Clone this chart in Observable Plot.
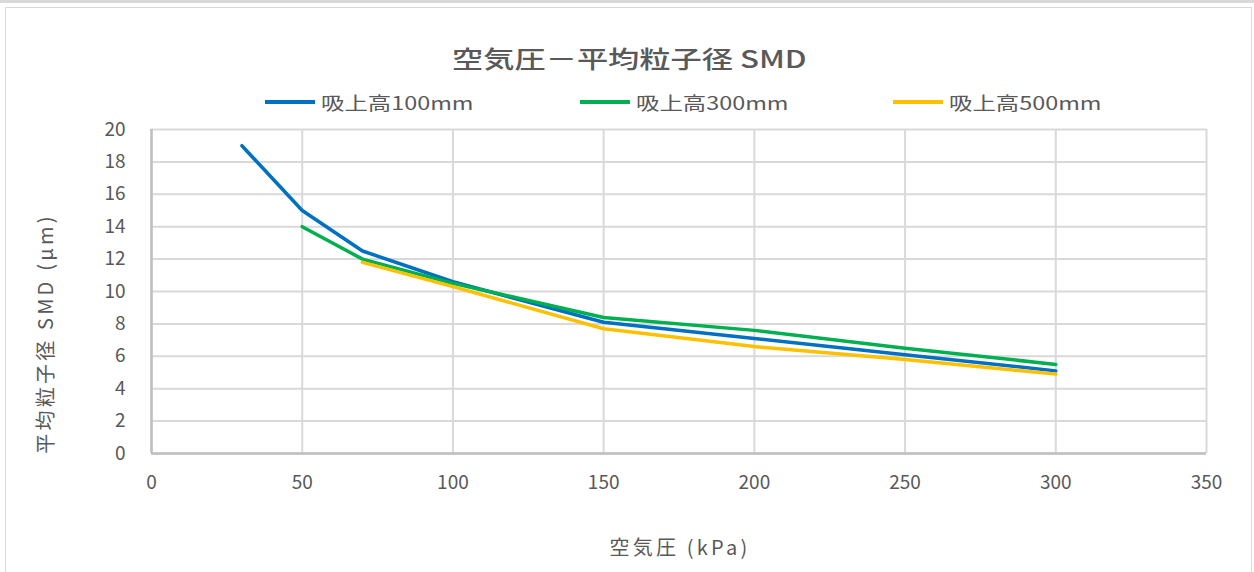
<!DOCTYPE html>
<html>
<head>
<meta charset="utf-8">
<script src="https://cdn.jsdelivr.net/npm/d3@7"></script>
<script src="https://cdn.jsdelivr.net/npm/@observablehq/plot@0.6"></script>
<style>
  html, body { margin: 0; padding: 0; background: #fff; overflow: hidden; }
  #page { position: relative; width: 1254px; height: 572px; overflow: hidden; font-family: "Noto Sans CJK JP", sans-serif; color: #595959; }
  #topband { position: absolute; left: 0; top: 0; width: 1254px; height: 3px; background: #d9d9d9; }
  #frame { position: absolute; left: 5px; top: 7px; width: 1247px; height: 600px; border: 1px solid #d9d9d9; box-sizing: border-box; pointer-events: none; }
  #header { position: relative; height: 115px; }
  #title { position: absolute; left: 0; width: 1258px; top: 40px; text-align: center; }
  #title span { display: inline-block; font-size: 24px; font-weight: 500; transform: scaleX(1.3); line-height: 36px; }
  #legend { position: absolute; top: 88px; left: 0; width: 1254px; height: 28px; }
  .item { position: absolute; top: 0; height: 28px; display: flex; align-items: center; }
  .swatch { width: 50px; height: 3.5px; margin-right: 6px; }
  .item span { display: inline-block; font-size: 18px; transform: scaleX(1.3); transform-origin: left center; line-height: 28px; }
</style>
</head>
<body>
<div id="page">
  <div id="topband"></div>
  <div id="header">
    <div id="title"><span></span></div>
    <div id="legend"></div>
  </div>
  <div id="chart"></div>
  <div id="frame"></div>
</div>
<script>
// ---- data ----
const chartTitle = "空気圧－平均粒子径 SMD";
const xTitle = "空気圧 (kPa)";
const yTitle = "平均粒子径 SMD (µm)";
const seriesNames = ["吸上高100mm", "吸上高300mm", "吸上高500mm"];
const seriesColors = ["#0070C0", "#00B050", "#FFC000"];

const pressure100 = [30, 50, 70, 100, 150, 200, 250, 300];
const smd100      = [19.0, 15.0, 12.5, 10.6, 8.1, 7.1, 6.1, 5.1];
const pressure300 = [50, 70, 100, 150, 200, 250, 300];
const smd300      = [14.0, 12.0, 10.5, 8.4, 7.6, 6.5, 5.5];
const pressure500 = [70, 100, 150, 200, 250, 300];
const smd500      = [11.8, 10.3, 7.7, 6.6, 5.8, 4.9];

const xTicks = [0, 50, 100, 150, 200, 250, 300, 350];
const yTicks = [0, 2, 4, 6, 8, 10, 12, 14, 16, 18, 20];

// ---- build table ----
const rows = [];
[[pressure100, smd100], [pressure300, smd300], [pressure500, smd500]].forEach(([xs, ys], i) => {
  xs.forEach((x, j) => rows.push({series: seriesNames[i], pressure: x, smd: ys[j]}));
});

// ---- header ----
document.querySelector("#title span").textContent = chartTitle;
const legendLefts = [265, 580, 893];
const legend = document.getElementById("legend");
seriesNames.forEach((name, i) => {
  const item = document.createElement("div");
  item.className = "item";
  item.style.left = legendLefts[i] + "px";
  const sw = document.createElement("div");
  sw.className = "swatch";
  sw.style.background = seriesColors[i];
  const label = document.createElement("span");
  label.textContent = name;
  item.appendChild(sw);
  item.appendChild(label);
  legend.appendChild(item);
});

// ---- plot ----
const plot = Plot.plot({
  width: 1254,
  height: 457,
  marginTop: 14,
  marginBottom: 119,
  marginLeft: 151,
  marginRight: 48,
  style: {fontFamily: "'Noto Sans CJK JP', sans-serif", fontSize: "19px", color: "#595959", background: "transparent"},
  x: {domain: [0, 350], ticks: xTicks},
  y: {domain: [0, 20], ticks: yTicks},
  color: {domain: seriesNames, range: seriesColors},
  marks: [
    Plot.gridX(xTicks, {stroke: "#d9d9d9", strokeOpacity: 1, strokeWidth: 2}),
    Plot.gridY(yTicks, {stroke: "#d9d9d9", strokeOpacity: 1, strokeWidth: 2}),
    Plot.ruleX([0], {stroke: "#bfbfbf", strokeWidth: 2.5}),
    Plot.ruleY([0], {stroke: "#bfbfbf", strokeWidth: 2.5}),
    Plot.axisX(xTicks, {tickSize: 0, tickPadding: 22, label: null, fontSize: 19}),
    Plot.axisY(yTicks, {tickSize: 0, tickPadding: 26, label: null, fontSize: 19}),
    Plot.line(rows, {x: "pressure", y: "smd", z: "series", stroke: "series", strokeWidth: 3.5, strokeLinejoin: "round"}),
    Plot.text([xTitle], {frameAnchor: "bottom", dy: 95, dx: 1, lineAnchor: "middle", fontSize: 20, fill: "#595959"}),
    Plot.text([yTitle], {frameAnchor: "left", dx: -105, dy: 42, rotate: -90, lineAnchor: "middle", textAnchor: "middle", fontSize: 20, fill: "#595959"})
  ]
});
d3.select(plot).selectAll("text")
  .filter(function() { return this.textContent === xTitle || this.textContent === yTitle; })
  .style("letter-spacing", "3.2px");
document.getElementById("chart").appendChild(plot);
</script>
</body>
</html>
